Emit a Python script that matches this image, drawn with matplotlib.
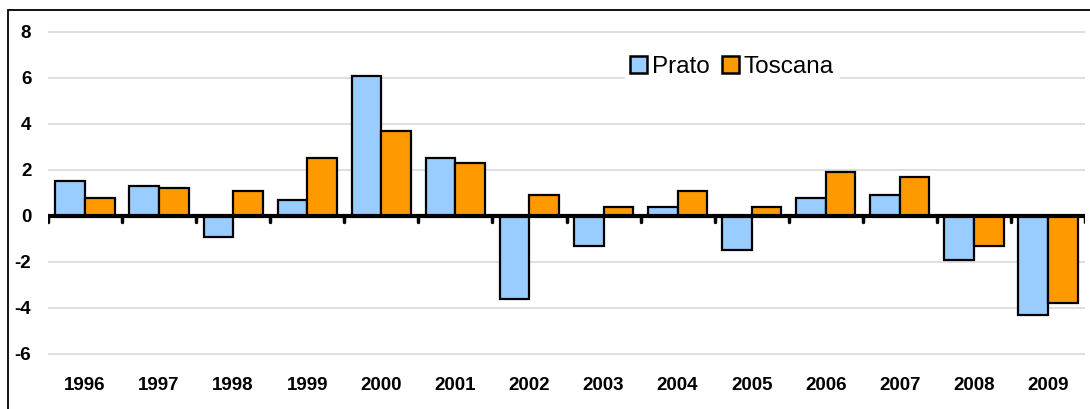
import matplotlib
matplotlib.use("Agg")
import matplotlib.pyplot as plt
import numpy as np
from matplotlib.patches import Rectangle, Patch

years = ["1996", "1997", "1998", "1999", "2000", "2001", "2002",
         "2003", "2004", "2005", "2006", "2007", "2008", "2009"]
prato = [1.5, 1.3, -0.9, 0.7, 6.1, 2.5, -3.6, -1.3, 0.4, -1.5, 0.8, 0.9, -1.9, -4.3]
toscana = [0.8, 1.2, 1.1, 2.5, 3.7, 2.3, 0.9, 0.4, 1.1, 0.4, 1.9, 1.7, -1.3, -3.8]
yticks = [-6, -4, -2, 0, 2, 4, 6, 8]

FONT = ["Liberation Sans", "DejaVu Sans"]
plt.rcParams["font.family"] = FONT
plt.rcParams["axes.unicode_minus"] = False

W, H = 1090, 409
fig = plt.figure(figsize=(W / 100, H / 100), dpi=100)
ax = fig.add_axes([48 / W, 1 - 377 / H, (1085 - 48) / W, (377 - 26) / H])

x = np.arange(len(years))
bw = 0.4
ax.bar(x - bw / 2, prato, bw, color="#99CCFF", edgecolor="black", linewidth=1.6, zorder=3, label="Prato")
ax.bar(x + bw / 2, toscana, bw, color="#FF9900", edgecolor="black", linewidth=1.6, zorder=3, label="Toscana")

ax.set_xlim(-0.5, len(years) - 0.5)
ax.set_ylim(-7, 8.26)
ax.set_yticks(yticks)
ax.set_yticklabels([str(v) for v in yticks], fontsize=13.5, fontweight="bold")
ax.yaxis.grid(True, color="#D9D9D9", linewidth=1.2, zorder=0)
ax.tick_params(axis="y", length=0, pad=12)

ax.set_xticks(x)
ax.set_xticklabels(years, fontsize=13.5, fontweight="bold")
ax.tick_params(axis="x", length=0, pad=0)

for s in ax.spines.values():
    s.set_visible(False)

# zero line and category separator ticks
ax.axhline(0, color="black", linewidth=3, zorder=4, solid_capstyle="round")
bounds = np.arange(len(years) + 1) - 0.5
ax.vlines(bounds, -0.25, 0, color="black", linewidth=2.5, zorder=4, capstyle="round")

handles = [Patch(facecolor="#99CCFF", edgecolor="black", linewidth=1.8, label="Prato"),
           Patch(facecolor="#FF9900", edgecolor="black", linewidth=1.8, label="Toscana")]
leg = ax.legend(handles=handles, loc="upper left", bbox_to_anchor=(565 / 1037, 0.962),
                ncol=2, frameon=True, fontsize=17.5, handlelength=0.7, handleheight=0.7,
                handletextpad=0.2, columnspacing=0.5, borderpad=0.2)
leg.get_frame().set_edgecolor("white")
leg.get_frame().set_facecolor("white")
leg.get_frame().set_alpha(1)

# outer frame
fig.patches.append(Rectangle((8 / W, -0.1), 1.2, 1 - 10 / H + 0.1, transform=fig.transFigure,
                             fill=False, edgecolor="black", linewidth=1.3))

fig.savefig("out.png", dpi=100)
